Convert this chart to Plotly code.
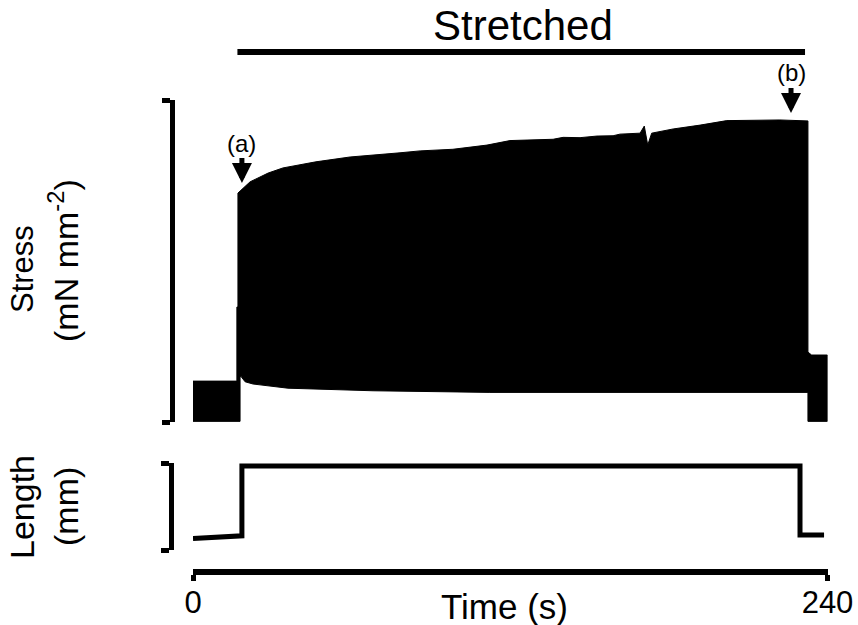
import plotly.graph_objects as go

W, H = 858, 625
FONT = "Liberation Sans, Arial, sans-serif"

# ---- data ----
# stress trace (arbitrary units, scale bar 0..100): upper and lower outline of the dense oscillation
upper_t = [0, 16.6, 16.6, 17.0, 17.0, 17.8, 19.7, 21.6, 28.4, 34.0, 46.5, 59.4, 78.3, 85.9,
           98.3, 111.2, 119.9, 136.2, 140.0, 146.4, 152.8, 158.9, 161.5, 169.1, 170.7, 172.0,
           173.5, 181.6, 191.8, 201.9, 222.0, 232.1, 232.6, 232.6, 234.0, 240.0]
upper_s = [12.7, 12.7, 35.7, 35.7, 71.1, 71.7, 73.0, 74.6, 77.3, 78.9, 80.8, 82.3, 83.6, 84.2,
           84.7, 86.0, 87.4, 87.8, 88.4, 88.3, 88.8, 88.9, 89.4, 89.7, 91.9, 86.0,
           89.7, 91.0, 92.2, 93.6, 93.8, 93.5, 93.5, 21.7, 20.8, 20.8]
lower_t = [0, 17.8, 17.8, 18.2, 19.7, 22.7, 28.4, 35.9, 68.1, 112.3, 232.6, 232.6, 240.0]
lower_s = [0.2, 0.2, 14.1, 14.1, 12.5, 11.8, 11.2, 10.5, 9.7, 9.2, 9.2, 0.2, 0.2]

# length trace (scale bar 0..1)
len_t = [0, 18.5, 18.5, 229.6, 229.6, 238.7]
len_v = [0.132, 0.163, 0.966, 0.966, 0.172, 0.172]

# stretched period
stretch_t = [16.8, 231.5]

# markers (a) and (b)
mark_labels = ["(a)", "(b)"]
mark_t = [18.5, 226.2]
mark_s = [74.2, 96.0]

time_ticks = [0, 240]
time_ticklabels = ["0", "240"]
stress_range = [0, 100]
length_range = [0, 1]

# ---- layout helpers (pixel -> paper) ----
def px(x):
    return x / W

def py(y):
    return 1 - y / H

poly_t = upper_t + lower_t[::-1]
poly_s = upper_s + lower_s[::-1]

fig = go.Figure()
fig.add_trace(go.Scatter(x=poly_t, y=poly_s, mode="lines", fill="toself",
                         fillcolor="black", line=dict(color="black", width=1),
                         xaxis="x", yaxis="y", hoverinfo="skip"))
fig.add_trace(go.Scatter(x=len_t, y=len_v, mode="lines",
                         line=dict(color="black", width=5),
                         xaxis="x", yaxis="y2", hoverinfo="skip"))
fig.add_trace(go.Scatter(x=stretch_t, y=[0, 0], mode="lines",
                         line=dict(color="black", width=6),
                         xaxis="x", yaxis="y3", hoverinfo="skip"))

annotations = []
for lab, t, s in zip(mark_labels, mark_t, mark_s):
    annotations.append(dict(x=t, y=s, xref="x", yref="y", text=lab, showarrow=True,
                            arrowhead=2, arrowsize=0.8, arrowwidth=5, arrowcolor="black",
                            ax=0, ay=-40, font=dict(family=FONT, size=24, color="black")))

annotations += [
    dict(x=(stretch_t[0] + stretch_t[1]) / 2 + 0.5, y=py(26), xref="x", yref="paper",
         text="Stretched", showarrow=False, xanchor="center", yanchor="middle",
         font=dict(family=FONT, size=42, color="black")),
    dict(x=px(504), y=py(606), xref="paper", yref="paper", text="Time (s)",
         showarrow=False, xanchor="center", yanchor="middle",
         font=dict(family=FONT, size=35, color="black")),
    dict(x=px(22), y=py(269), xref="paper", yref="paper", text="Stress",
         showarrow=False, textangle=-90, xanchor="center", yanchor="middle",
         font=dict(family=FONT, size=31, color="black")),
    dict(x=px(63), y=py(261), xref="paper", yref="paper", text="(mN mm<sup>-2</sup>)",
         showarrow=False, textangle=-90, xanchor="center", yanchor="middle",
         font=dict(family=FONT, size=34, color="black")),
    dict(x=px(22), y=py(507), xref="paper", yref="paper", text="Length",
         showarrow=False, textangle=-90, xanchor="center", yanchor="middle",
         font=dict(family=FONT, size=34, color="black")),
    dict(x=px(66), y=py(507), xref="paper", yref="paper", text="(mm)",
         showarrow=False, textangle=-90, xanchor="center", yanchor="middle",
         font=dict(family=FONT, size=34, color="black")),
]

fig.update_layout(
    width=W, height=H, autosize=False,
    margin=dict(l=0, r=0, t=0, b=0, pad=0),
    paper_bgcolor="white", plot_bgcolor="white",
    showlegend=False,
    annotations=annotations,
    xaxis=dict(domain=[px(193), px(827.5)], range=[0, 240], anchor="free", position=py(572),
               automargin=False,
               showline=True, linewidth=6, linecolor="black", ticks="outside",
               tickvals=time_ticks, ticktext=time_ticklabels, ticklen=6, tickwidth=5,
               tickcolor="black", showgrid=False, zeroline=False, ticklabelstandoff=-5,
               tickfont=dict(family=FONT, size=31, color="black")),
    yaxis=dict(domain=[py(422), py(100)], range=stress_range, anchor="free", position=px(172),
               automargin=False,
               showline=True, linewidth=5, linecolor="black", ticks="outside",
               tickvals=stress_range, ticklen=8, tickwidth=5, tickcolor="black",
               showticklabels=False, showgrid=False, zeroline=False),
    yaxis2=dict(domain=[py(550), py(463)], range=length_range, anchor="free", position=px(170.5),
                automargin=False,
                showline=True, linewidth=5, linecolor="black", ticks="outside",
                tickvals=length_range, ticklen=8, tickwidth=5, tickcolor="black",
                showticklabels=False, showgrid=False, zeroline=False),
    yaxis3=dict(domain=[py(60), py(44)], range=[-1, 1], anchor="x", visible=False,
                automargin=False),
)

fig.write_html("out.html")
